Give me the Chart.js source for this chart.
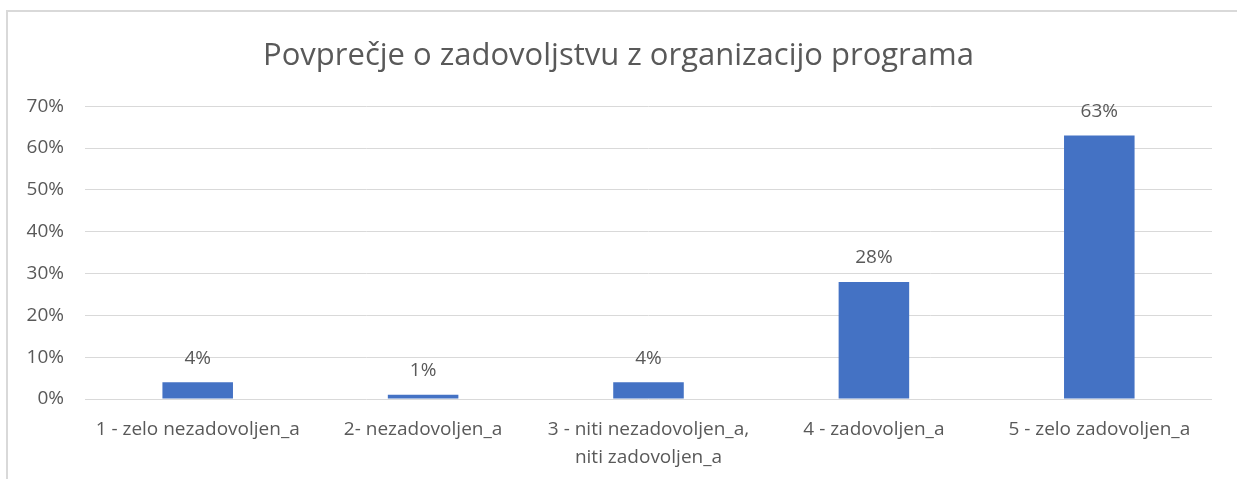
<!DOCTYPE html>
<html>
<head>
<meta charset="utf-8">
<script src="https://cdn.jsdelivr.net/npm/chart.js@4/dist/chart.umd.min.js"></script>
<style>
  html, body { margin: 0; padding: 0; background: #fff; }
  #wrap { position: relative; width: 1237px; height: 479px; overflow: hidden; }
  #frame { position: absolute; left: 6px; top: 10px; width: 1300px; height: 600px; border: 2px solid #d9d9d9; box-sizing: border-box; }
  canvas { position: absolute; left: 0; top: 0; }
</style>
</head>
<body>
<div id="wrap">
  <div id="frame"></div>
  <canvas id="c" width="1237" height="479"></canvas>
</div>
<script>
const titleText = 'Povprečje o zadovoljstvu z organizacijo programa';
const categories = [
  '1 - zelo nezadovoljen_a',
  '2- nezadovoljen_a',
  ['3 - niti nezadovoljen_a,', 'niti zadovoljen_a'],
  '4 - zadovoljen_a',
  '5 - zelo zadovoljen_a'
];
const values = [4, 1, 4, 28, 63];
const yTicks = [0, 10, 20, 30, 40, 50, 60, 70];

const FONT = "'Open Sans', sans-serif";
const GREY = '#595959';

const valueLabels = {
  id: 'valueLabels',
  afterDatasetsDraw(chart) {
    const ctx = chart.ctx;
    const meta = chart.getDatasetMeta(0);
    ctx.save();
    ctx.font = '19px ' + FONT;
    ctx.fillStyle = GREY;
    ctx.textAlign = 'center';
    ctx.textBaseline = 'middle';
    meta.data.forEach((bar, i) => {
      ctx.fillText(values[i] + '%', bar.x, bar.y - 24);
    });
    ctx.restore();
  }
};

new Chart(document.getElementById('c'), {
  type: 'bar',
  data: {
    labels: categories,
    datasets: [{
      data: values,
      backgroundColor: '#4472C4',
      borderWidth: 0,
      barPercentage: 0.313,
      categoryPercentage: 1
    }]
  },
  options: {
    responsive: false,
    animation: false,
    layout: { padding: 0 },
    plugins: {
      legend: { display: false },
      tooltip: { enabled: false },
      title: {
        display: true,
        text: titleText,
        color: GREY,
        font: { family: FONT, size: 31, weight: 'normal', lineHeight: 1.2 },
        padding: { top: 38, bottom: 31 }
      }
    },
    scales: {
      x: {
        grid: { display: false, drawTicks: false },
        border: { display: false },
        ticks: {
          color: GREY,
          font: { family: FONT, size: 19, lineHeight: 1.47 },
          padding: 17,
          maxRotation: 0,
          autoSkip: false
        },
        afterFit(scale) { scale.height = 80; }
      },
      y: {
        min: 0,
        max: 70,
        afterBuildTicks(scale) { scale.ticks = yTicks.map(v => ({ value: v })); },
        grid: { color: '#d9d9d9', lineWidth: 1, drawTicks: false },
        border: { display: false },
        ticks: {
          color: GREY,
          font: { family: FONT, size: 19 },
          padding: 21,
          callback: v => v + '%'
        },
        afterFit(scale) { scale.width = 85; }
      },
      yRight: {
        position: 'right',
        min: 0,
        max: 70,
        grid: { display: false, drawTicks: false },
        border: { display: false },
        ticks: { display: false },
        afterFit(scale) { scale.width = 25; }
      }
    }
  },
  plugins: [valueLabels]
});
</script>
</body>
</html>
